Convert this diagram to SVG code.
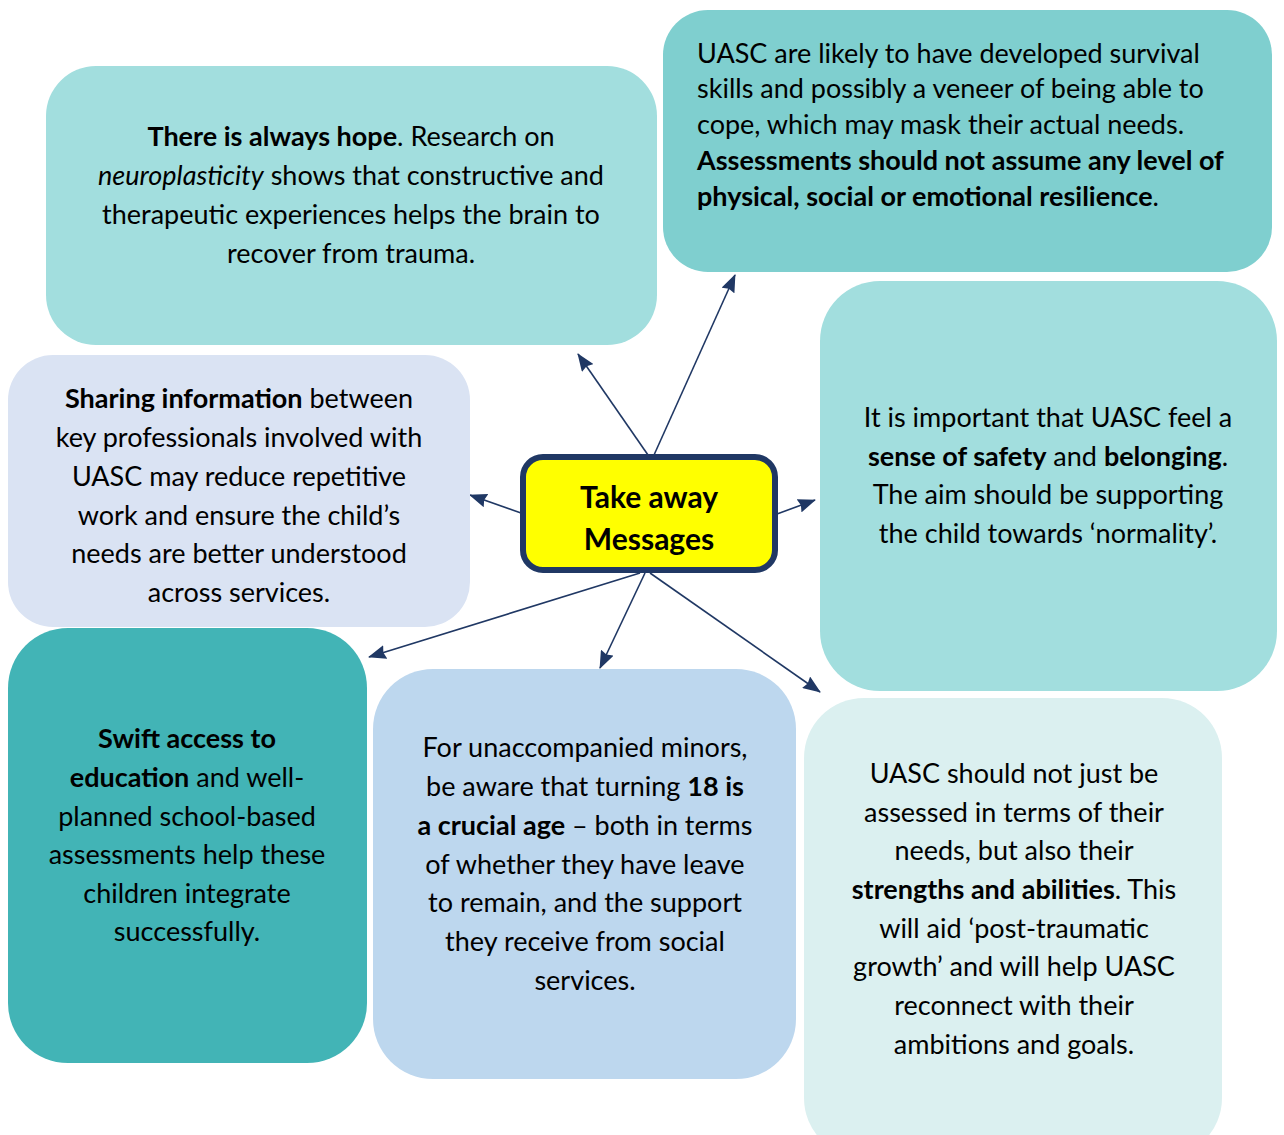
<svg xmlns="http://www.w3.org/2000/svg" width="1284" height="1135" viewBox="0 0 1284 1135">
<style>
text{font-family:Lato,"Noto Sans","Liberation Sans",sans-serif;font-size:27px;fill:#000}
.c{text-anchor:middle}
.b{font-weight:bold}
.i{font-style:italic}
.t{font-size:30px;font-weight:bold}
.ln{stroke:#203864;stroke-width:1.6;fill:none;marker-end:url(#ah)}
</style>
<defs>
<marker id="ah" viewBox="0 0 18 14" refX="17" refY="7" markerWidth="18" markerHeight="14" markerUnits="userSpaceOnUse" orient="auto"><path d="M0,0 L18,7 L0,14 L2,7 z" fill="#203864"/></marker>
</defs>
<rect width="1284" height="1135" fill="#fff"/>
<g id="connectors">
<line class="ln" x1="648" y1="455" x2="578" y2="354"/>
<line class="ln" x1="654" y1="455" x2="735" y2="275"/>
<line class="ln" x1="521" y1="513" x2="470" y2="495"/>
<line class="ln" x1="777" y1="514" x2="815" y2="500"/>
<line class="ln" x1="640" y1="573" x2="369" y2="657"/>
<line class="ln" x1="645" y1="573" x2="600" y2="668"/>
<line class="ln" x1="650" y1="573" x2="820" y2="692"/>
</g>
<g id="box1">
<rect x="46" y="66" width="611" height="279" rx="50" fill="#a2dede"/>
<text class="c" x="351" y="146"><tspan class="b">There is always hope</tspan>. Research on</text>
<text class="c" x="351" y="185"><tspan class="i">neuroplasticity</tspan> shows that constructive and</text>
<text class="c" x="351" y="224">therapeutic experiences helps the brain to</text>
<text class="c" x="351" y="263">recover from trauma.</text>
</g>
<g id="box2">
<rect x="663" y="10" width="609" height="262" rx="45" fill="#7fcfcf"/>
<text x="697" y="63">UASC are likely to have developed survival</text>
<text x="697" y="98">skills and possibly a veneer of being able to</text>
<text x="697" y="134">cope, which may mask their actual needs.</text>
<text x="697" y="170" class="b">Assessments should not assume any level of</text>
<text x="697" y="206"><tspan class="b">physical, social or emotional resilience</tspan>.</text>
</g>
<g id="box3">
<rect x="820" y="281" width="457" height="410" rx="60" fill="#a2dede"/>
<text class="c" x="1048" y="427">It is important that UASC feel a</text>
<text class="c" x="1048" y="466"><tspan class="b">sense of safety</tspan> and <tspan class="b">belonging</tspan>.</text>
<text class="c" x="1048" y="504">The aim should be supporting</text>
<text class="c" x="1048" y="543">the child towards ‘normality’.</text>
</g>
<g id="box4">
<rect x="8" y="355" width="462" height="272" rx="45" fill="#dae3f3"/>
<text class="c" x="239" y="408"><tspan class="b">Sharing information</tspan> between</text>
<text class="c" x="239" y="447">key professionals involved with</text>
<text class="c" x="239" y="486">UASC may reduce repetitive</text>
<text class="c" x="239" y="525">work and ensure the child’s</text>
<text class="c" x="239" y="563">needs are better understood</text>
<text class="c" x="239" y="602">across services.</text>
</g>
<g id="box5">
<rect x="8" y="628" width="359" height="435" rx="60" fill="#42b4b6"/>
<text class="c b" x="187" y="748">Swift access to</text>
<text class="c" x="187" y="787"><tspan class="b">education</tspan> and well-</text>
<text class="c" x="187" y="826">planned school-based</text>
<text class="c" x="187" y="864">assessments help these</text>
<text class="c" x="187" y="903">children integrate</text>
<text class="c" x="187" y="941">successfully.</text>
</g>
<g id="box6">
<rect x="373" y="669" width="423" height="410" rx="60" fill="#bdd7ee"/>
<text class="c" x="585" y="757">For unaccompanied minors,</text>
<text class="c" x="585" y="796">be aware that turning <tspan class="b">18 is</tspan></text>
<text class="c" x="585" y="835"><tspan class="b">a crucial age</tspan> – both in terms</text>
<text class="c" x="585" y="874">of whether they have leave</text>
<text class="c" x="585" y="912">to remain, and the support</text>
<text class="c" x="585" y="951">they receive from social</text>
<text class="c" x="585" y="990">services.</text>
</g>
<g id="box7">
<rect x="804" y="698" width="418" height="460" rx="60" fill="#dbf0f0"/>
<text class="c" x="1014" y="783">UASC should not just be</text>
<text class="c" x="1014" y="822">assessed in terms of their</text>
<text class="c" x="1014" y="860">needs, but also their</text>
<text class="c" x="1014" y="899"><tspan class="b">strengths and abilities</tspan>. This</text>
<text class="c" x="1014" y="938">will aid ‘post-traumatic</text>
<text class="c" x="1014" y="976">growth’ and will help UASC</text>
<text class="c" x="1014" y="1015">reconnect with their</text>
<text class="c" x="1014" y="1054">ambitions and goals.</text>
</g>
<g id="center">
<rect x="523" y="457" width="252" height="113" rx="20" fill="#ffff00" stroke="#203864" stroke-width="6"/>
<text class="c t" x="649" y="508">Take away</text>
<text class="c t" x="649" y="550">Messages</text>
</g>
</svg>
